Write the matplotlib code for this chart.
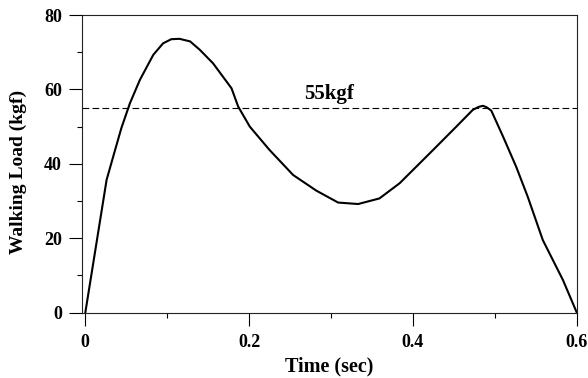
import numpy as np
from matplotlib import pyplot as plt
from matplotlib.ticker import MultipleLocator

plt.rcParams['font.family'] = 'Liberation Serif'
plt.rcParams['font.weight'] = 'bold'

# Walking load curve
time_sec = [0, 0.026, 0.034, 0.044, 0.0545, 0.0667, 0.083, 0.095, 0.105, 0.115,
            0.128, 0.14, 0.156, 0.1785, 0.1866, 0.2008, 0.225, 0.2537, 0.282, 0.3086,
            0.333, 0.359, 0.3838, 0.392, 0.4244, 0.4529, 0.473, 0.48, 0.4854, 0.49,
            0.4956, 0.51, 0.526, 0.54, 0.5585, 0.583, 0.6]
load_kgf = [0, 35.7, 41.9, 49.6, 56.3, 62.6, 69.3, 72.4, 73.5, 73.6,
            72.9, 70.6, 67.0, 60.3, 55.4, 50.0, 43.7, 37.0, 32.8, 29.6,
            29.2, 30.7, 34.8, 36.6, 43.7, 50.0, 54.5, 55.3, 55.6, 55.2,
            54.3, 47.3, 39.2, 31.2, 19.5, 8.8, 0]
limit_kgf = 55
limit_label = '55kgf'

fig = plt.figure(figsize=(5.88, 3.78), dpi=100)
ax = fig.add_axes([0.1395, 0.1728, 0.8415, 0.7875])

ax.plot(time_sec, load_kgf, color='k', linewidth=1.5)
ax.axhline(limit_kgf, color='k', linewidth=0.8, linestyle=(0, (6, 3)))
ax.text(0.298, limit_kgf + 1.0, limit_label, ha='center', va='bottom',
        fontsize=15, fontweight='bold')

ax.set_xlim(-0.004, 0.6)
ax.set_ylim(0, 80)
ax.xaxis.set_minor_locator(MultipleLocator(0.1))
ax.yaxis.set_major_locator(MultipleLocator(20))
ax.yaxis.set_minor_locator(MultipleLocator(10))
ax.set_xticks([0, 0.2, 0.4, 0.6])
ax.set_xticklabels(['0', '0.2', '0.4', '0.6'])

ax.tick_params(which='major', direction='out', length=9.5, width=0.8,
               labelsize=13)
ax.tick_params(axis='x', which='major', pad=6)
ax.tick_params(axis='y', which='major', pad=5)
ax.tick_params(which='minor', direction='out', length=3.6, width=0.8)
for s in ax.spines.values():
    s.set_linewidth(0.8)
    s.set_color('#222222')

ax.set_xlabel('Time (sec)', fontsize=14.5, fontweight='bold', labelpad=4)
ax.set_ylabel('Walking Load (kgf)', fontsize=14, fontweight='bold')
ax.yaxis.set_label_coords(-0.112, 0.473)

plt.savefig('out.png', dpi=100)
